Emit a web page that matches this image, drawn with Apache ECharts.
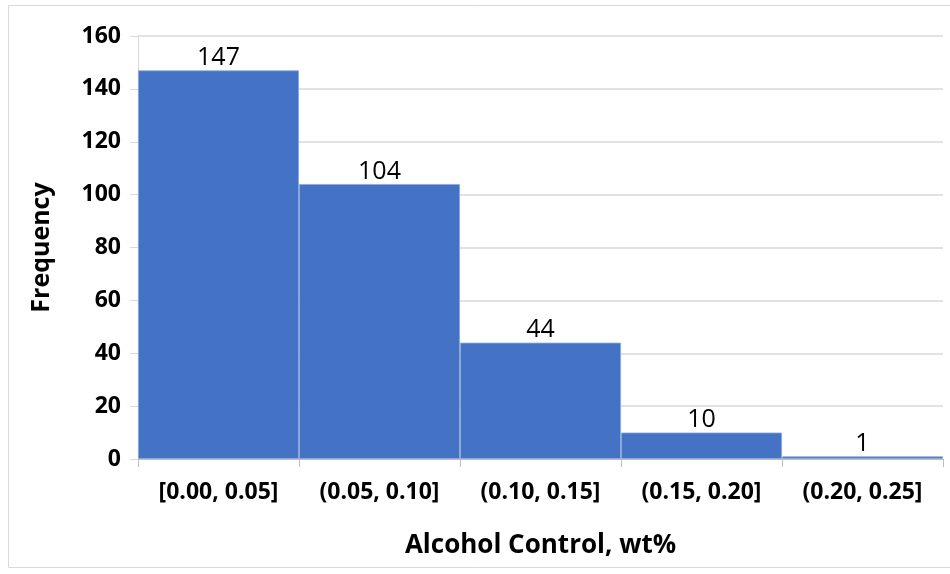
<!DOCTYPE html>
<html><head><meta charset="utf-8">
<script src="https://cdn.jsdelivr.net/npm/echarts@6/dist/echarts.min.js"></script>
<style>html,body{margin:0;padding:0;background:#fff}#c{width:950px;height:574px}</style>
</head><body><div id="c"></div>
<script>
const categories = ['[0.00, 0.05]', '(0.05, 0.10]', '(0.10, 0.15]', '(0.15, 0.20]', '(0.20, 0.25]'];
const frequency = [147, 104, 44, 10, 1];
const yTicks = { min: 0, max: 160, interval: 20 };

const chart = echarts.init(document.getElementById('c'), null, { renderer: 'canvas' });
const font = '"Open Sans", "Liberation Sans", sans-serif';
chart.setOption({
  backgroundColor: '#fff',
  animation: false,
  graphic: [{
    type: 'rect', shape: { x: 8.5, y: 5.5, width: 960, height: 562 },
    style: { fill: 'none', stroke: '#d9d9d9', lineWidth: 1 }, silent: true, z: -1
  }],
  grid: { left: 138, right: 7, top: 36, bottom: 115 },
  xAxis: {
    type: 'category', data: categories, boundaryGap: true,
    name: 'Alcohol Control, wt%', nameLocation: 'middle', nameGap: 74,
    nameTextStyle: { fontFamily: font, fontWeight: 'bold', fontSize: 26, color: '#000' },
    axisLine: { show: true, lineStyle: { color: '#bfbfbf', width: 1 } },
    axisTick: { show: true, alignWithLabel: false, length: 8, lineStyle: { color: '#bfbfbf' } },
    axisLabel: { fontFamily: font, fontWeight: 'bold', fontSize: 23, color: '#000', margin: 22, interval: 0 },
    splitLine: { show: false }
  },
  yAxis: {
    type: 'value', min: yTicks.min, max: yTicks.max, interval: yTicks.interval,
    name: 'Frequency', nameLocation: 'middle', nameGap: 84, nameRotate: 90,
    nameTextStyle: { fontFamily: font, fontWeight: 'bold', fontSize: 25, color: '#000' },
    axisLine: { show: true, lineStyle: { color: '#d9d9d9' } },
    axisTick: { show: true, length: 8, lineStyle: { color: '#d9d9d9' } },
    axisLabel: { fontFamily: font, fontWeight: 'bold', fontSize: 23, color: '#000', margin: 17 },
    splitLine: { show: true, lineStyle: { color: '#d9d9d9', width: 1.5 } }
  },
  series: [{
    type: 'bar', data: frequency, barCategoryGap: '0%', barGap: '0%',
    itemStyle: { color: '#4472C4', borderColor: '#8eaadb', borderWidth: 0.8 },
    label: { show: true, position: 'top', distance: 0, fontFamily: font, fontSize: 25, color: '#000' }
  }]
});
</script></body></html>
